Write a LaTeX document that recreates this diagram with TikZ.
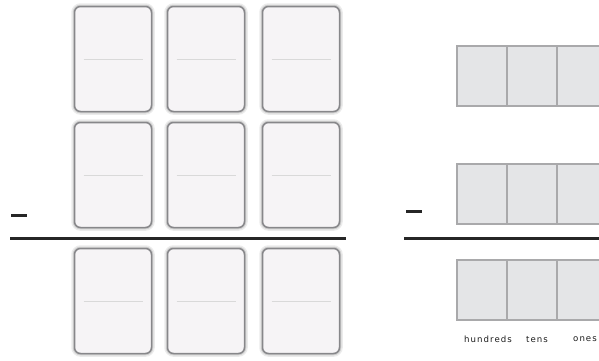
\documentclass[tikz,border=0pt]{standalone}
\usepackage{fontspec}
\usepackage{xcolor}
\usepackage{tikz}
\usetikzlibrary{positioning}
\newfontfamily\placefont[LetterSpace=12]{DejaVu Sans}
\definecolor{cardfill}{HTML}{F6F4F6}
\definecolor{cardedge}{HTML}{87878A}
\definecolor{cellfill}{HTML}{E4E5E7}
\definecolor{celledge}{HTML}{A9A9AB}

\begin{document}
\begin{tikzpicture}[x=1pt,y=-1pt,
  card/.style={draw=cardedge,fill=cardfill,line width=1.5pt,rounded corners=6pt,
               minimum width=77pt,minimum height=105pt,inner sep=0pt,
               preaction={draw=black!8,line width=6.5pt},
               preaction={draw=black!20,line width=3.5pt},
               path picture={\draw[black!15,line width=0.7pt]
                 ([xshift=9pt]path picture bounding box.west) -- ([xshift=-9pt]path picture bounding box.east);}},
  cell/.style={draw=celledge,fill=cellfill,line width=1.3pt,minimum width=50pt,
               minimum height=60pt,inner sep=0pt,outer sep=0pt},
  minus/.style={fill=black!85,minimum width=16pt,minimum height=3pt,inner sep=0pt},
  rule/.style={line width=3pt,black!85},
  place/.style={font=\placefont\fontsize{8.6}{10}\selectfont,text=black!90,inner sep=0pt}]
\useasboundingbox (0,0) rectangle (599,360);
\clip (0,0) rectangle (599,360);
% number cards
\node[card] (a1) at (113,59) {};
\node[card] (b1) at (206,59) {};
\node[card] (c1) at (301,59) {};
\node[card] (a2) at (113,175) {};
\node[card] (b2) at (206,175) {};
\node[card] (c2) at (301,175) {};
\node[card] (a3) at (113,301) {};
\node[card] (b3) at (206,301) {};
\node[card] (c3) at (301,301) {};
\node[minus] (minusL) at (19,215) {};
\coordinate (ruleL) at (10,238);
\draw[rule] (ruleL) -- ([xshift=6pt]ruleL -| c3.east);
% place value chart
\node[cell] (h1) at (482,76) {};
\node[cell,right=0pt of h1] (t1) {};
\node[cell,right=0pt of t1] (o1) {};
\node[cell] (h2) at (482,194) {};
\node[cell,right=0pt of h2] (t2) {};
\node[cell,right=0pt of t2] (o2) {};
\node[cell] (h3) at (482,290) {};
\node[cell,right=0pt of h3] (t3) {};
\node[cell,right=0pt of t3] (o3) {};
\node[minus] (minusR) at (414,211) {};
\coordinate (ruleR) at (404,238);
\draw[rule] (ruleR) -- (ruleR -| o3.east);
\node[place,below=16pt of h3,xshift=6pt] (hlab) {hundreds};
\node[place,below=16pt of t3,xshift=5pt] (tlab) {tens};
\node[place,below=16pt of o3,xshift=3pt] (olab) {ones};
\end{tikzpicture}
\end{document}
